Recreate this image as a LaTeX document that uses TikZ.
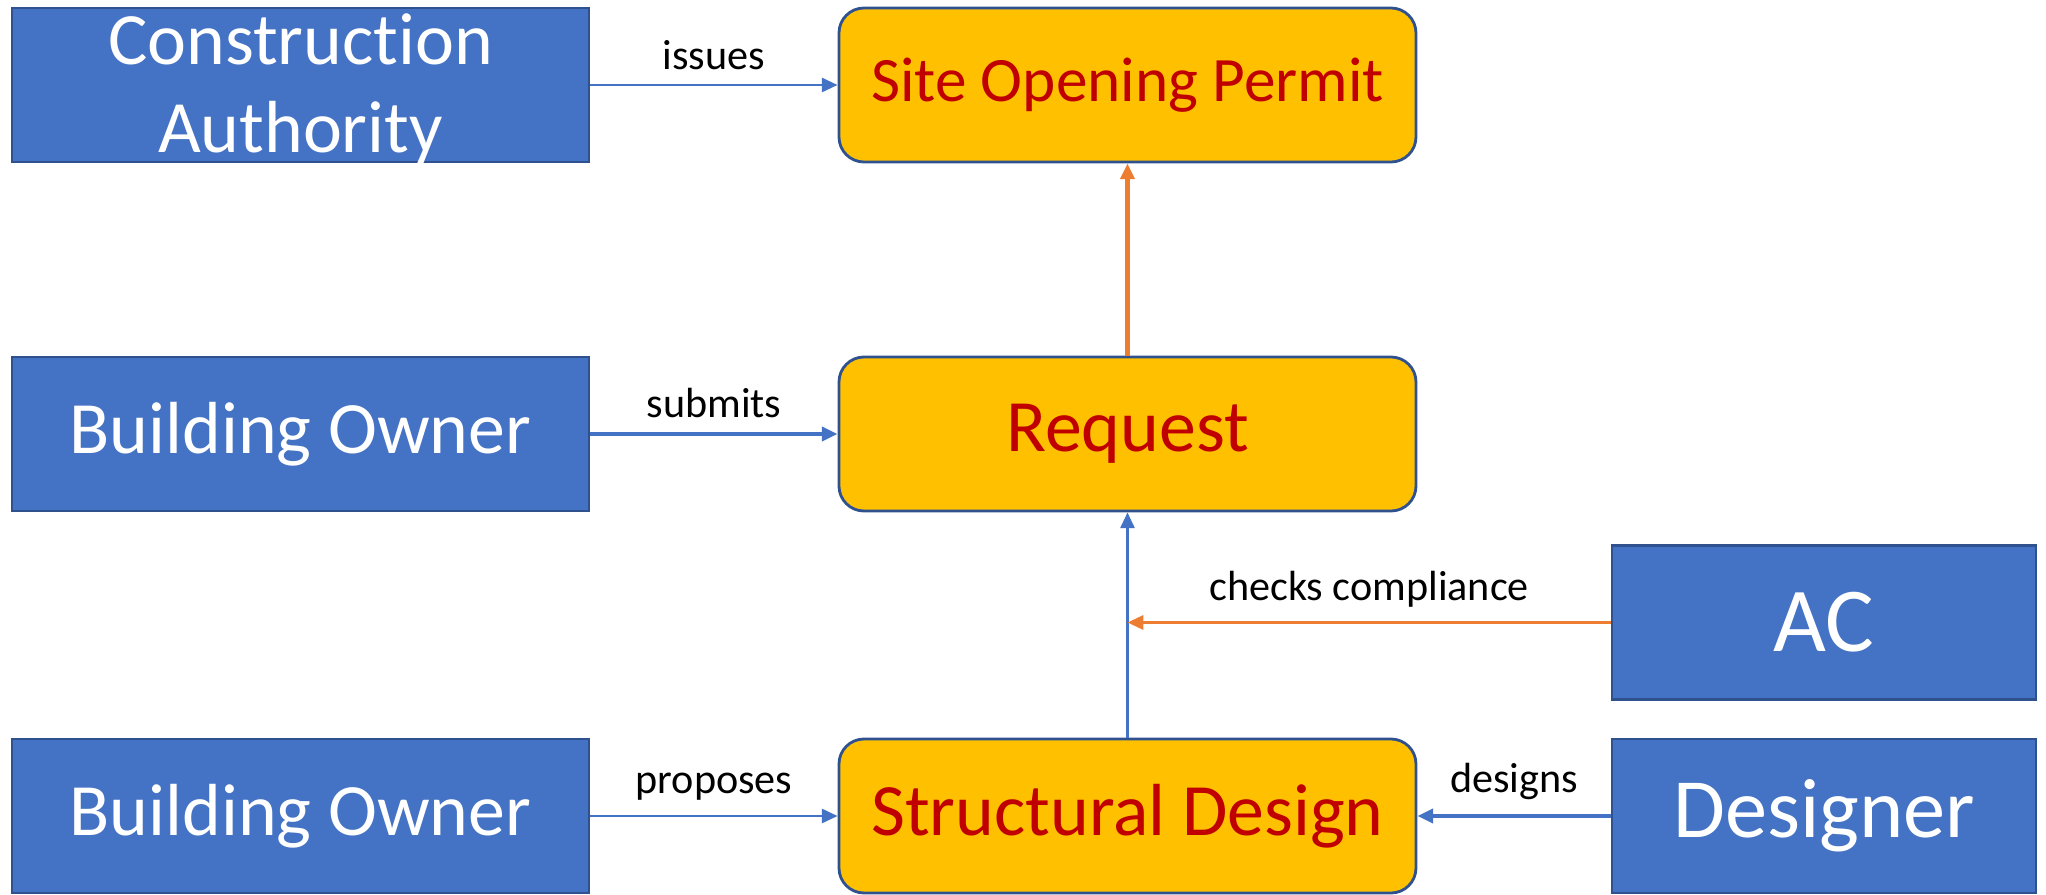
\documentclass[tikz,border=0pt]{standalone}
\usepackage{fontspec}
\setmainfont{Carlito}[Ligatures=NoCommon]
\usetikzlibrary{positioning}
\usetikzlibrary{arrows.meta}

\definecolor{actorblue}{HTML}{4472C4}
\definecolor{actorline}{HTML}{2F528F}
\definecolor{itemgold}{HTML}{FFC000}
\definecolor{itemred}{HTML}{C00000}
\definecolor{floworange}{HTML}{ED7D31}

\begin{document}
\begin{tikzpicture}
    [
    node distance=3.49cm and 8.27cm,
    on grid,
    actor/.style={rectangle, fill=actorblue, draw=actorline, line width=0.8pt, text=white, minimum width=5.77cm, minimum height=1.54cm, inner sep=0pt, font=\fontsize{21}{25}\selectfont},
    actortext/.style={text=white, align=center, inner sep=0pt, font=\fontsize{21}{25}\selectfont},
    item/.style={rectangle, rounded corners=0.25cm, fill=itemgold, draw=actorline, line width=0.8pt, text=itemred, minimum width=5.77cm, minimum height=1.54cm, inner sep=0pt, font=\fontsize{21}{25}\selectfont},
    flow/.style={draw=actorblue, line width=0.8pt, -{Triangle[length=4.5pt,width=4pt]}},
    check/.style={flow, draw=floworange},
    verb/.style={above, inner sep=4pt, font=\fontsize{12}{14}\selectfont},
    ]

    \useasboundingbox (-11.275,0.85) rectangle (9.185,-8.1);

    \node[item, font=\fontsize{18}{22}\selectfont] (permit) {Site Opening Permit};
    \node[actor, left = of permit,
        label={[actortext, name=authorityname, yshift=-0.04cm]center:{Construction\\Authority}}] (authority) {};

    \node[item, below = of permit] (request) {Request};
    \node[actor, left = of request] (owner) {Building Owner};

    \node[item, below = 3.82cm of request] (design) {Structural Design};
    \node[actor, left = of design] (proposer) {Building Owner};
    \node[actor, minimum width=4.24cm, right = 6.965cm of design, font=\fontsize{24}{28}\selectfont] (designer) {Designer};
    \node[actor, minimum width=4.24cm, above = 1.935cm of designer, font=\fontsize{26}{30}\selectfont] (ac) {AC};

    \coordinate (compliance) at (ac.west -| design.north);

    \draw[flow] (authority) -- node[verb] (issues) {issues} (permit);
    \draw[flow, line width=1.1pt] (owner) -- node[verb] (submits) {submits} (request);
    \draw[check, line width=1.3pt] (request) -- (permit);
    \draw[flow] (design) -- (request);
    \draw[check] (ac) -- node[verb] (checks) {checks compliance} (compliance);
    \draw[flow] (proposer) -- node[verb] (proposes) {proposes} (design);
    \draw[flow, line width=1.1pt] (designer) -- node[verb] (designs) {designs} (design);
\end{tikzpicture}
\end{document}
